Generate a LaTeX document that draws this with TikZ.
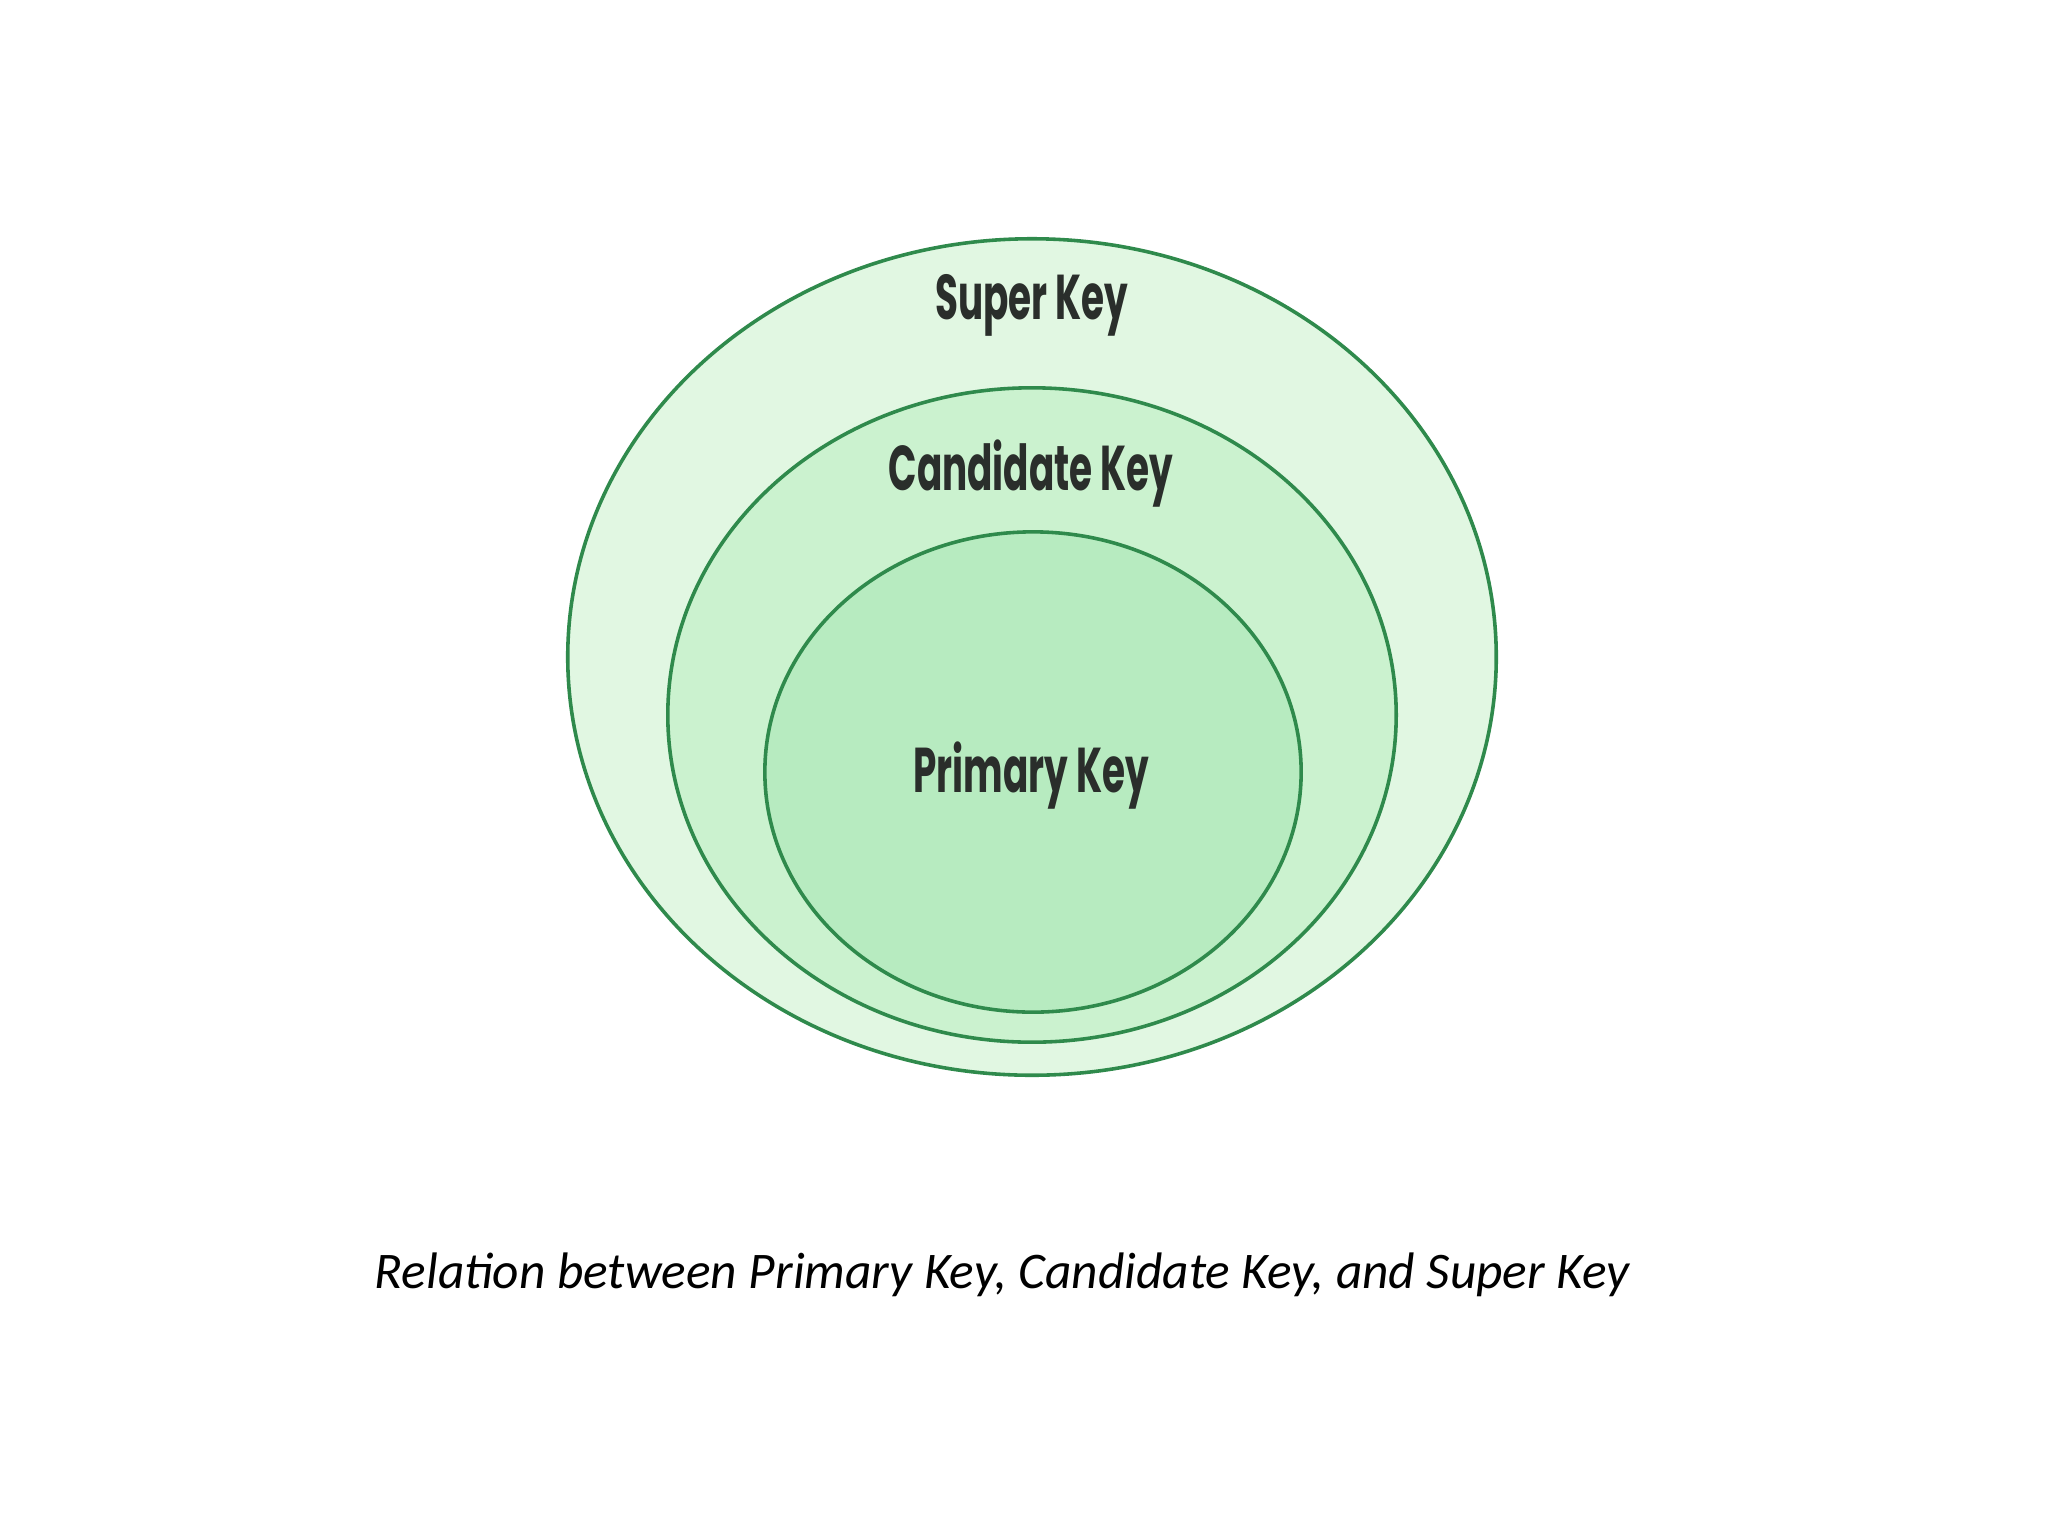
\documentclass[tikz,border=0pt]{standalone}
\usepackage{fontspec}
\usetikzlibrary{shapes.geometric}
\newfontfamily\labfont{Poppins}
\newfontfamily\capfont{Carlito}
\definecolor{ringline}{HTML}{2F8A4C}
\definecolor{fillA}{HTML}{E1F7E2}
\definecolor{fillB}{HTML}{CBF2CF}
\definecolor{fillC}{HTML}{B7EBC0}
\definecolor{labtext}{HTML}{2A2E2B}
\tikzset{
  ring/.style={ellipse, draw=ringline, line width=1.1mm*0.25*1.3, inner sep=0pt},
  keylabel/.style={font=\labfont\bfseries\fontsize{18pt}{20pt}\selectfont, text=labtext, xscale=0.59, inner sep=0pt},
  captionlabel/.style={font=\capfont\itshape\fontsize{14.6pt}{17pt}\selectfont, text=black, inner sep=0pt}
}
\begin{document}
\begin{tikzpicture}[x=0.01cm, y=-0.01cm]
\useasboundingbox (0,0) rectangle (2048,1536);
\fill[white] (0,0) rectangle (2048,1536);
\node[ring, fill=fillA, minimum width=9.28cm, minimum height=8.36cm] (super) at (1032,657) {};
\node[ring, fill=fillB, minimum width=7.28cm, minimum height=6.54cm] (cand) at (1032,715) {};
\node[ring, fill=fillC, minimum width=5.36cm, minimum height=4.80cm] (prim) at (1033,772) {};
\node[keylabel] (tsuper) at (1032,305) {Super Key};
\node[keylabel] (tcand) at (1031,474) {Candidate Key};
\node[keylabel] (tprim) at (1031,776) {Primary Key};
\node[captionlabel] (cap) at (1002,1275) {Relation between Primary Key, Candidate Key, and Super Key};
\end{tikzpicture}
\end{document}
